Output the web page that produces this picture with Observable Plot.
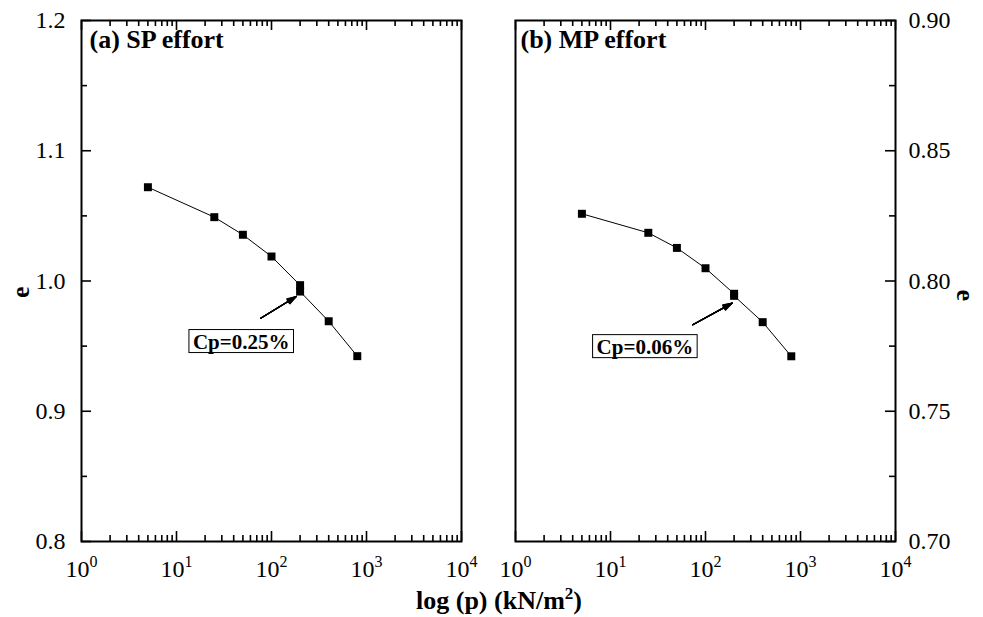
<!DOCTYPE html>
<html><head><meta charset="utf-8">
<script src="https://cdn.jsdelivr.net/npm/d3@7"></script>
<script src="https://cdn.jsdelivr.net/npm/@observablehq/plot@0.6"></script>
<style>
body{margin:0;background:#fff;}
#wrap{position:relative;width:983px;height:617px;font-family:"Liberation Serif","Times New Roman",serif;color:#000;}
.panel{position:absolute;top:0;}
#xtitle{position:absolute;left:0;width:998px;top:588px;text-align:center;font-weight:bold;font-size:26px;line-height:26px;}
#xtitle sup{font-size:17px;line-height:0;}
</style></head><body>
<div id="wrap"><div id="left" class="panel" style="left:0"></div><div id="right" class="panel" style="left:490px"></div><div id="xtitle">log (p) (kN/m<sup>2</sup>)</div></div>
<script>
// ---- data ----
const pressure = [5, 25, 50, 100, 200, 200, 400, 800];          // kN/m2
const eSP = [1.072, 1.049, 1.0355, 1.0188, 0.9968, 0.9919, 0.9691, 0.9423];
const eMP = [0.8258, 0.8185, 0.8127, 0.8049, 0.7951, 0.7943, 0.7842, 0.7711];
const panelTitles = ["(a) SP effort", "(b) MP effort"];
const cpLabels = ["Cp=0.25%", "Cp=0.06%"];
const cpLabelX = [48, 23];
const cpLabelY = [0.9533, 0.7747];
const arrowX1 = [77, 73.5];
const arrowY1 = [0.9714, 0.7832];
const arrowX2 = [182, 191];
const arrowY2 = [0.9881, 0.7915];
const xMajor = [1, 10, 100, 1000, 10000];
const xMinor = [1, 10, 100, 1000].flatMap(d => [2,3,4,5,6,7,8,9].map(k => k * d));
const yMajorSP = [0.8, 0.9, 1.0, 1.1, 1.2];
const yMinorSP = [0.85, 0.95, 1.05, 1.15];
const yMajorMP = [0.70, 0.75, 0.80, 0.85, 0.90];
const yMinorMP = [0.725, 0.775, 0.825, 0.875];
const yTitle = "e";

const FONT = '"Liberation Serif","Times New Roman",serif';
const ns = "http://www.w3.org/2000/svg";
const H = 575, MT = 20, MB = 34;
const FH = H - MT - MB; // frame height in px

function makePanel(cfg) {
  const data = pressure.map((p, i) => ({p, e: cfg.e[i]}));
  const ann = [{label: cpLabels[cfg.i], x: cpLabelX[cfg.i], y: cpLabelY[cfg.i]}];
  const arr = [{x1: arrowX1[cfg.i], y1: arrowY1[cfg.i], x2: arrowX2[cfg.i], y2: arrowY2[cfg.i]}];
  const side = cfg.side;
  const FW = cfg.width - cfg.mL - cfg.mR; // frame width in px
  const tk = {stroke: "black", strokeWidth: 1.6};
  // inward ticks: rules shortened to a few pixels by insets
  const xt = (vals, len) => [
    Plot.ruleX(vals, {x: d => d, insetTop: FH - len, ...tk}),
    Plot.ruleX(vals, {x: d => d, insetBottom: FH - len, ...tk})
  ];
  const yt = (vals, len) => Plot.ruleY(vals, {y: d => d, ...(side === "left" ? {insetRight: FW - len} : {insetLeft: FW - len}), ...tk});
  const arrows = [6, 12, 18, 24, 30, 36].map(a =>
    Plot.arrow(arr, {x1: "x1", y1: "y1", x2: "x2", y2: "y2", headAngle: a, headLength: 12, stroke: "black", strokeWidth: 1.2}));
  return Plot.plot({
    width: cfg.width, height: H,
    marginLeft: cfg.mL, marginRight: cfg.mR, marginTop: MT, marginBottom: MB,
    x: {type: "log", domain: [1, 1e4], label: null},
    y: {domain: cfg.yDomain, label: null},
    style: {fontFamily: FONT, fontSize: "24px", color: "black", background: "white", overflow: "visible"},
    marks: [
      Plot.axisX(xMajor, {anchor: "bottom", tickSize: 0, tickPadding: 18, tickFormat: d => "10^" + Math.round(Math.log10(d)), fontSize: 24, label: null}),
      Plot.axisY(cfg.yMajor, {anchor: side, tickSize: 0, tickPadding: side === "left" ? 16 : 13, tickFormat: d3.format(cfg.fmt), fontSize: 24, label: null}),
      ...xt(xMajor, 10),
      ...xt(xMinor, 6),
      yt(cfg.yMajor, 10),
      yt(cfg.yMinor, 6),
      Plot.frame({stroke: "black", strokeWidth: 2}),
      Plot.line(data, {x: "p", y: "e", stroke: "black", strokeWidth: 1}),
      Plot.dot(data, {x: "p", y: "e", symbol: "square", r: 4.5, fill: "black", stroke: "none"}),
      ...arrows,
      Plot.text(ann, {x: "x", y: "y", text: "label", fontSize: 21, fontWeight: "bold", fill: "black"}),
      Plot.text([panelTitles[cfg.i]], {frameAnchor: "top-left", dx: cfg.titleDx, dy: 9, lineAnchor: "top", textAnchor: "start", fontSize: 26, fontWeight: "bold", fill: "black"}),
      Plot.text([yTitle], {frameAnchor: side, dx: side === "left" ? -61 : 70, dy: side === "left" ? 17 : 20, rotate: side === "left" ? -90 : 90, fontSize: 26, fontWeight: "bold", fill: "black"})
    ]
  });
}

function post(svg) {
  const s = d3.select(svg);
  s.selectAll("text").filter(function() { return /^10\^\d$/.test(this.textContent); }).each(function() {
    const k = this.textContent.slice(3);
    this.textContent = "10";
    const t = document.createElementNS(ns, "tspan");
    t.setAttribute("font-size", "16");
    t.setAttribute("dy", "-0.6em");
    t.textContent = k;
    this.appendChild(t);
  });
  s.selectAll("text").filter(function() { return this.textContent.startsWith("Cp="); }).each(function() {
    const b = this.getBBox();
    const r = document.createElementNS(ns, "rect");
    const tr = this.getAttribute("transform");
    if (tr) r.setAttribute("transform", tr);
    r.setAttribute("x", b.x - 4);
    r.setAttribute("y", b.y);
    r.setAttribute("width", b.width + 8);
    r.setAttribute("height", b.height - 1);
    r.setAttribute("fill", "white");
    r.setAttribute("stroke", "black");
    r.setAttribute("stroke-width", "1");
    this.parentNode.insertBefore(r, this);
  });
}

const left = makePanel({i: 0, e: eSP, side: "left", width: 490, mL: 81, mR: 29, yDomain: [0.8, 1.2], yMajor: yMajorSP, yMinor: yMinorSP, fmt: ".1f", titleDx: 8});
document.getElementById("left").appendChild(left);
post(left);
const right = makePanel({i: 1, e: eMP, side: "right", width: 493, mL: 25, mR: 88, yDomain: [0.70, 0.90], yMajor: yMajorMP, yMinor: yMinorMP, fmt: ".2f", titleDx: 5});
document.getElementById("right").appendChild(right);
post(right);
</script>
</body></html>
